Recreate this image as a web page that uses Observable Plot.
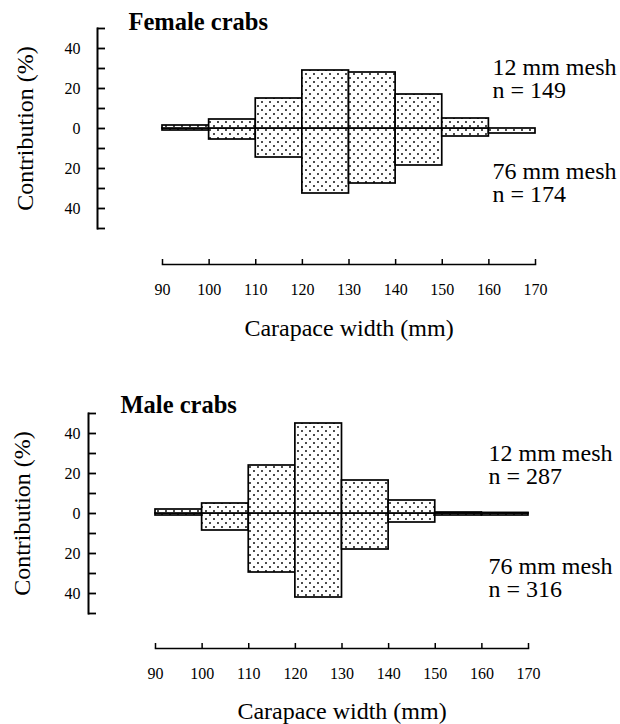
<!DOCTYPE html>
<html>
<head>
<meta charset="utf-8">
<script src="https://cdn.jsdelivr.net/npm/d3@7"></script>
<script src="https://cdn.jsdelivr.net/npm/@observablehq/plot@0.6"></script>
<style>
  html, body { margin: 0; padding: 0; background: #fff; }
  svg { display: block; }
  svg text { font-family: "Liberation Serif", "Times New Roman", Times, serif; }
</style>
</head>
<body>
<div id="chart"></div>
<script>
// ---- data ----
const binStarts = [90, 100, 110, 120, 130, 140, 150, 160];
const binWidth = 10;
const femaleMesh12 = [1.5, 4.5, 15, 29, 28, 17, 5, 0];
const femaleMesh76 = [1, 5.5, 14.5, 32.5, 27.5, 18.5, 4, 2.5];
const maleMesh12 = [2, 5, 24, 45, 16.5, 6.5, 0.5, 0.3];
const maleMesh76 = [1, 8.5, 29.5, 42, 18, 4.5, 1, 1];

const xTickValues = [90, 100, 110, 120, 130, 140, 150, 160, 170];
const yTickValues = [-50, -40, -30, -20, -10, 0, 10, 20, 30, 40, 50];
const yLabelValues = [-40, -20, 0, 20, 40];

const panelTitles = ["Female crabs", "Male crabs"];
const meshLabels = ["12 mm mesh", "76 mm mesh"];
const sampleSizes12 = [149, 287];
const sampleSizes76 = [174, 316];
const xTitle = "Carapace width (mm)";
const yTitle = "Contribution (%)";

// ---- layout ----
const layouts = [
  {height: 385, frameBottom: 264, marginLeft: 97, xRange: [162, 535], titleDx: 31, titleDy: -6,
   yTitleDx: -72, xTitleDy: 64, noteDx: -43, upperDy: -49.5, lowerDy: 54.5, yTickPad: 25},
  {height: 339, frameBottom: 263, marginLeft: 88, xRange: [155, 528], titleDx: 32, titleDy: -8,
   yTitleDx: -66, xTitleDy: 63, noteDx: -40, upperDy: -48.5, lowerDy: 64.5, yTickPad: 16}
];
const ups = [femaleMesh12, maleMesh12];
const downs = [femaleMesh76, maleMesh76];
const font = "Liberation Serif";
const bigSize = 24;

const container = document.getElementById("chart");

layouts.forEach((L, p) => {
  const patternId = "dots" + p;
  const upRows = binStarts.map((s, i) => ({x1: s, x2: s + binWidth, v: ups[p][i]}));
  const downRows = binStarts.map((s, i) => ({x1: s, x2: s + binWidth, v: -downs[p][i]}));
  const yBottomPx = 228;

  const svg = Plot.plot({
    width: 620,
    height: L.height,
    marginTop: 28,
    marginLeft: L.marginLeft,
    marginRight: 620 - L.xRange[1],
    marginBottom: L.height - L.frameBottom,
    style: {fontFamily: font, fontSize: "16px", color: "#000", background: "#fff", overflow: "visible"},
    x: {domain: [xTickValues[0], xTickValues[xTickValues.length - 1]], range: L.xRange},
    y: {domain: [yTickValues[0], yTickValues[yTickValues.length - 1]], range: [yBottomPx, 28]},
    marks: [
      Plot.rect(downRows, {x1: "x1", x2: "x2", y1: 0, y2: "v", fill: `url(#${patternId})`, stroke: "#000", strokeWidth: 1.7}),
      Plot.rect(upRows, {x1: "x1", x2: "x2", y1: 0, y2: "v", fill: `url(#${patternId})`, stroke: "#000", strokeWidth: 1.7}),
      Plot.frame({anchor: "left", insetBottom: L.frameBottom - yBottomPx, stroke: "#000", strokeWidth: 2}),
      Plot.frame({anchor: "bottom", insetLeft: L.xRange[0] - L.marginLeft, stroke: "#000", strokeWidth: 1.6}),
      Plot.axisY(yTickValues, {
        anchor: "left", tickSize: -8, tickPadding: L.yTickPad, strokeWidth: 1.8,
        tickFormat: d => yLabelValues.includes(d) ? String(Math.abs(d)) : "",
        label: null, fontSize: 16, fontFamily: font
      }),
      Plot.axisX(xTickValues, {
        anchor: "bottom", tickSize: -5, tickPadding: 24, strokeWidth: 1.5,
        tickFormat: d => String(d), label: null, fontSize: 16, fontFamily: font
      }),
      Plot.text([panelTitles[p]], {
        text: d => d, frameAnchor: "top-left", dx: L.titleDx, dy: L.titleDy, fontFamily: font,
        textAnchor: "start", lineAnchor: "middle", fontWeight: "bold", fontSize: 24.5
      }),
      Plot.text([`${meshLabels[0]}\nn = ${sampleSizes12[p]}`], {
        text: d => d, frameAnchor: "right", y: 0, dx: L.noteDx, dy: L.upperDy, fontFamily: font,
        textAnchor: "start", lineAnchor: "middle", fontSize: bigSize, lineHeight: 0.98
      }),
      Plot.text([`${meshLabels[1]}\nn = ${sampleSizes76[p]}`], {
        text: d => d, frameAnchor: "right", y: 0, dx: L.noteDx, dy: L.lowerDy, fontFamily: font,
        textAnchor: "start", lineAnchor: "middle", fontSize: bigSize, lineHeight: 0.98
      }),
      Plot.text([yTitle], {
        text: d => d, frameAnchor: "left", y: 0, dx: L.yTitleDx, rotate: -90, fontFamily: font,
        textAnchor: "middle", lineAnchor: "middle", fontSize: bigSize
      }),
      Plot.text([xTitle], {
        text: d => d, frameAnchor: "bottom", fontFamily: font,
        x: (xTickValues[0] + xTickValues[xTickValues.length - 1]) / 2,
        dy: L.xTitleDy, textAnchor: "middle", lineAnchor: "middle", fontSize: bigSize
      })
    ]
  });

  const ns = "http://www.w3.org/2000/svg";
  const defs = document.createElementNS(ns, "defs");
  const pattern = document.createElementNS(ns, "pattern");
  pattern.setAttribute("id", patternId);
  pattern.setAttribute("patternUnits", "userSpaceOnUse");
  pattern.setAttribute("width", "8");
  pattern.setAttribute("height", "8");
  const bg = document.createElementNS(ns, "rect");
  bg.setAttribute("width", "8"); bg.setAttribute("height", "8"); bg.setAttribute("fill", "#fff");
  pattern.appendChild(bg);
  [[2, 2], [6, 6]].forEach(([cx, cy]) => {
    const c = document.createElementNS(ns, "circle");
    c.setAttribute("cx", cx); c.setAttribute("cy", cy); c.setAttribute("r", "0.95"); c.setAttribute("fill", "#000");
    pattern.appendChild(c);
  });
  defs.appendChild(pattern);
  svg.insertBefore(defs, svg.firstChild);
  container.appendChild(svg);
});
</script>
</body>
</html>
